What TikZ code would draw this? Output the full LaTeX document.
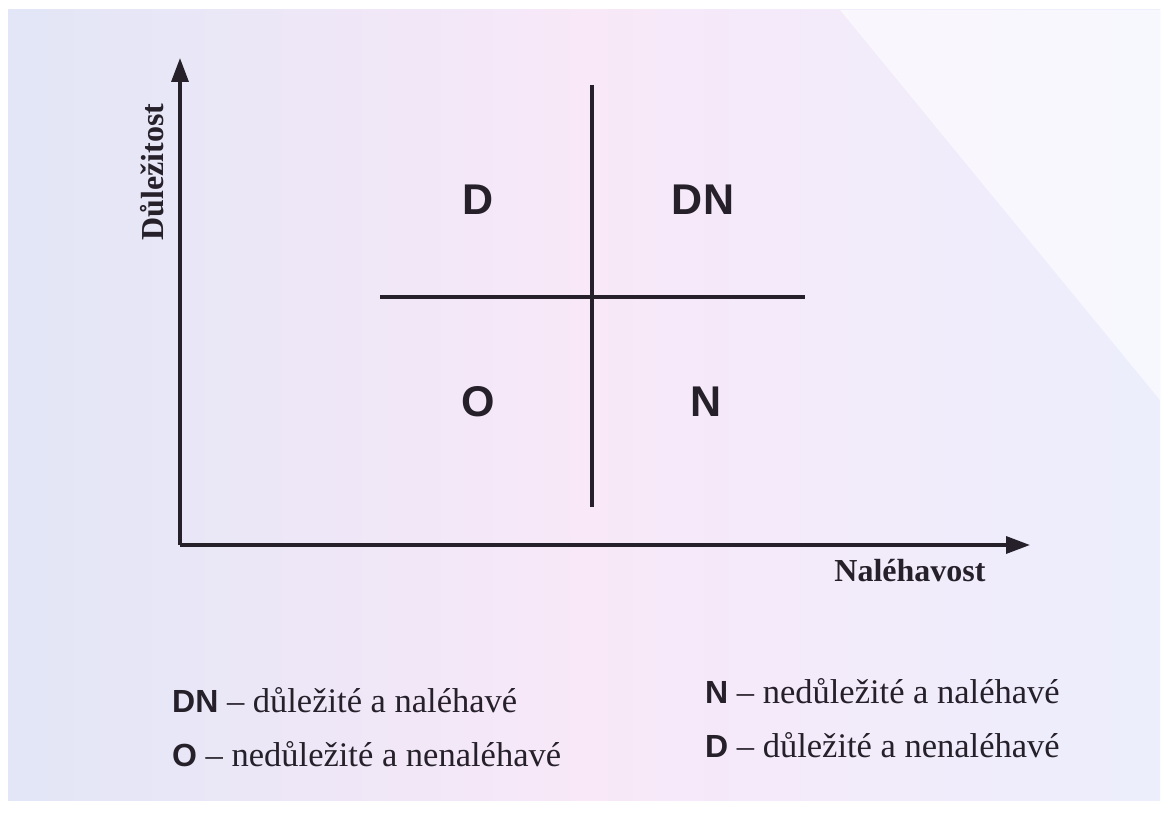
\documentclass[tikz,border=0pt]{standalone}
\usepackage{fontspec}
\setmainfont{Liberation Serif}
\newfontfamily\sansfam{Liberation Sans}
\usetikzlibrary{arrows.meta}
\definecolor{inkc}{RGB}{38,32,42}
\definecolor{paperL}{RGB}{226,230,246}
\definecolor{paperM}{RGB}{248,232,248}
\definecolor{paperR}{RGB}{236,238,252}
\tikzset{
  axis/.style={draw=inkc, line width=3.4pt, -{Triangle[length=24pt,width=17pt]}},
  divider/.style={draw=inkc, line width=3.4pt},
  quad/.style={text=inkc, font=\sansfam\bfseries\fontsize{43}{46}\selectfont},
  axlabel/.style={text=inkc, font=\bfseries\fontsize{32}{36}\selectfont},
  legend/.style={text=inkc, anchor=base west, font=\fontsize{34.5}{40}\selectfont, inner sep=0pt},
}
\newcommand{\lgkey}[1]{{\sansfam\bfseries\fontsize{32}{36}\selectfont #1}}
\begin{document}
\begin{tikzpicture}[x=1pt,y=-1pt]
\useasboundingbox (0,0) rectangle (1167,813);
\fill[white] (0,0) rectangle (1167,813);
\shade[left color=paperL, right color=paperR, middle color=paperM, shading angle=90] (8,10) rectangle (1160,800);
\fill[white, opacity=0.6] (840,10) -- (1160,10) -- (1160,400) -- cycle;
% axes
\coordinate (O) at (180,545);
\coordinate (ytip) at (180,58);
\coordinate (xtip) at (1030,545);
\draw[axis] (O) -- (ytip);
\draw[axis] (O) -- (xtip);
% dividers
\coordinate (vtop) at (592,85);
\coordinate (vbot) at (592,507);
\coordinate (hl) at (380,297);
\coordinate (hr) at (805,297);
\draw[divider] (vtop) -- (vbot);
\draw[divider] (hl) -- (hr);
% quadrant labels
\node[quad] (qD) at (478,200) {D};
\node[quad] (qDN) at (703,200) {DN};
\node[quad] (qO) at (478,402) {O};
\node[quad] (qN) at (706,402) {N};
% axis labels
\node[axlabel, rotate=90] (ylab) at (152,172) {Důležitost};
\node[axlabel] (xlab) at (910,571) {Naléhavost};
% legend
\node[legend] (l1) at (172,712) {\lgkey{DN} – důležité a naléhavé};
\node[legend] (l2) at (172,766) {\lgkey{O} – nedůležité a nenaléhavé};
\node[legend] (l3) at (705,703) {\lgkey{N} – nedůležité a naléhavé};
\node[legend] (l4) at (705,757) {\lgkey{D} – důležité a nenaléhavé};
\end{tikzpicture}
\end{document}
